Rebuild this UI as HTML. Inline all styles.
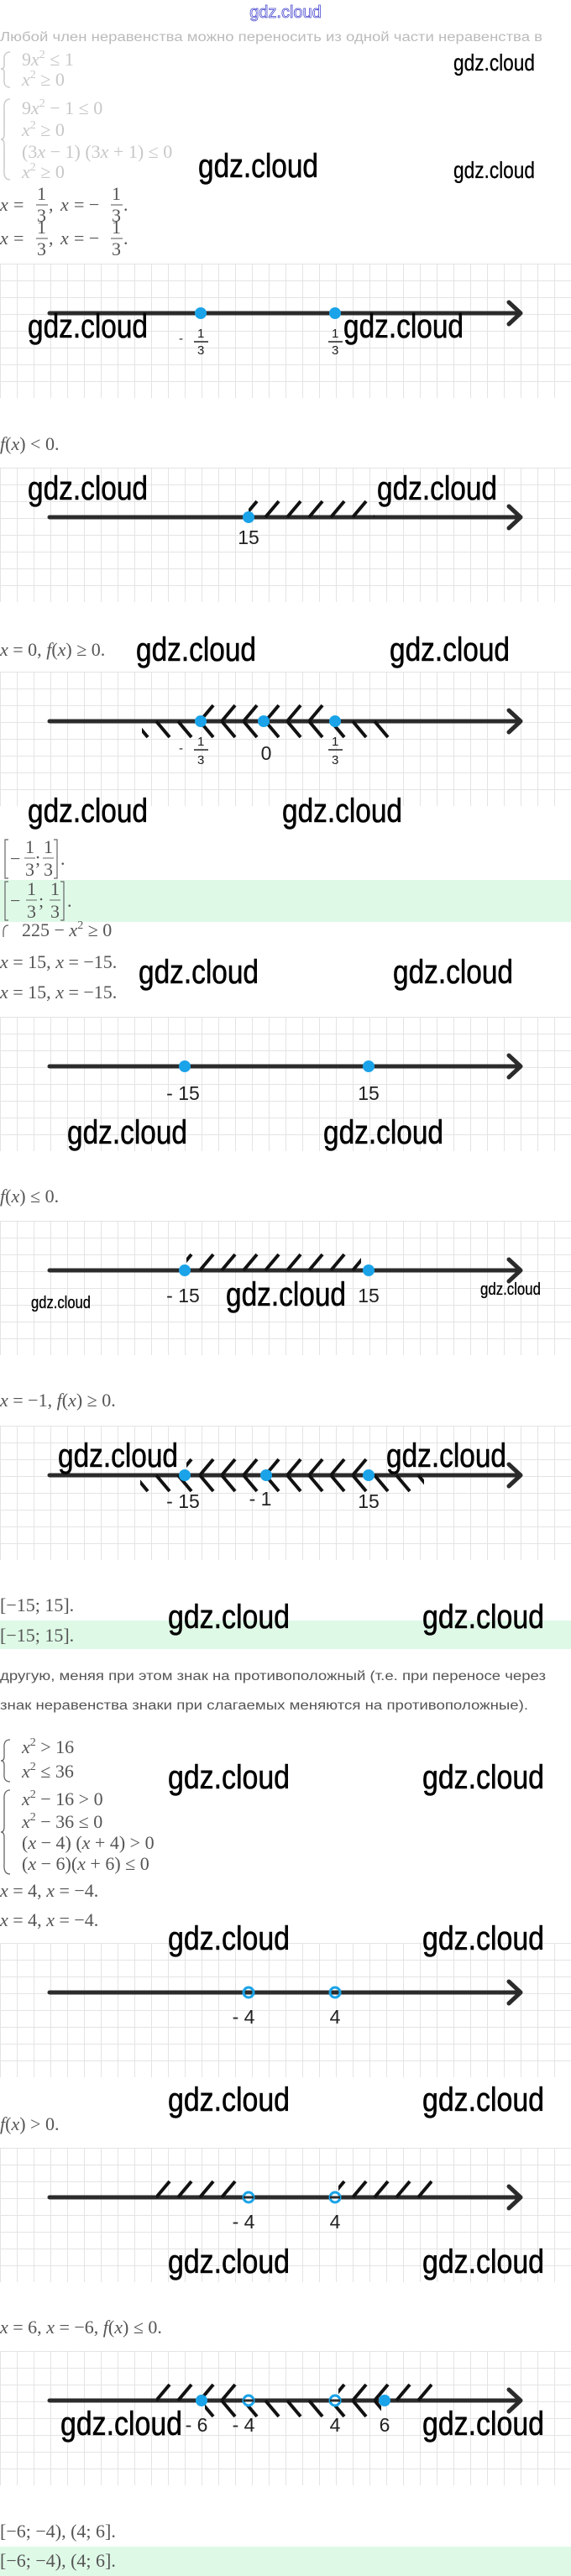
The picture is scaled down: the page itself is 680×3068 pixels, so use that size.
<!DOCTYPE html>
<html><head><meta charset="utf-8"><style>
html,body{margin:0;padding:0;background:#fff;}
svg{display:block;}
.m{font-family:"Liberation Serif",serif;font-size:22px;fill:#555;}
.f{font-family:"Liberation Serif",serif;font-size:22px;fill:#c8c8c8;}
.i{font-style:italic;}
.w{font-family:"Liberation Sans Narrow","Liberation Sans",sans-serif;font-size:40px;fill:#000;stroke:#000;stroke-width:0.6;}
.ws{font-family:"Liberation Sans Narrow","Liberation Sans",sans-serif;fill:#000;stroke:#000;stroke-width:0.3;}
.l{font-family:"Liberation Sans",sans-serif;font-size:23px;fill:#222;}
.ls{font-family:"Liberation Sans",sans-serif;font-size:15px;fill:#222;}
.t{font-family:"Liberation Sans",sans-serif;font-size:15.5px;fill:#555;}
</style></head><body>
<svg width="680" height="3068" viewBox="0 0 680 3068" xmlns="http://www.w3.org/2000/svg">
<defs>
<pattern id="grid" width="20" height="20" patternUnits="userSpaceOnUse"><path d="M0 0.5H20M0.5 0V20" stroke="#e4e4e4" stroke-width="1" fill="none"/></pattern>
<pattern id="hu" width="26" height="200" patternUnits="userSpaceOnUse"><line x1="4" y1="59" x2="20" y2="40" stroke="#111" stroke-width="4"/></pattern>
<pattern id="hd" width="26" height="200" patternUnits="userSpaceOnUse"><line x1="4" y1="59" x2="20" y2="78" stroke="#111" stroke-width="4"/></pattern>
<g id="ax"><rect x="0" y="0" width="680" height="160" fill="url(#grid)"/><line x1="59" y1="59" x2="618" y2="59" stroke="#2b2b2b" stroke-width="5" stroke-linecap="round"/><polyline points="606,46 620,59 606,72" fill="none" stroke="#2b2b2b" stroke-width="5" stroke-linecap="round" stroke-linejoin="round"/></g>
</defs>

<text x="340" y="21" text-anchor="middle" font-family="Liberation Sans Narrow, Liberation Sans, sans-serif" font-size="20" fill="#fff" stroke="#4a4ad0" stroke-width="0.8">gdz.cloud</text>
<text x="0" y="49" font-family="Liberation Sans, sans-serif" font-size="15.5" fill="#bbb" textLength="646" lengthAdjust="spacingAndGlyphs">Любой член неравенства можно переносить из одной части неравенства в</text>

<path d="M12 62 Q4 62 5 72 L5 78 Q5 82 1 82 Q5 82 5 86 L5 94 Q4 104 12 104" fill="none" stroke="#ccc" stroke-width="1.5"/>
<text class="f" x="26" y="78">9<tspan class="i">x</tspan><tspan font-size="14" dy="-9">2</tspan><tspan dy="9"> ≤ 1</tspan></text>
<text class="f" x="26" y="102"><tspan class="i">x</tspan><tspan font-size="14" dy="-9">2</tspan><tspan dy="9"> ≥ 0</tspan></text>
<path d="M12 118 Q4 118 5 130 L5 160 Q5 166 1 166 Q5 166 5 172 L5 202 Q4 214 12 214" fill="none" stroke="#ccc" stroke-width="1.5"/>
<text class="f" x="26" y="136">9<tspan class="i">x</tspan><tspan font-size="14" dy="-9">2</tspan><tspan dy="9"> − 1 ≤ 0</tspan></text>
<text class="f" x="26" y="162"><tspan class="i">x</tspan><tspan font-size="14" dy="-9">2</tspan><tspan dy="9"> ≥ 0</tspan></text>
<text class="f" x="26" y="188">(3<tspan class="i">x</tspan> − 1) (3<tspan class="i">x</tspan> + 1) ≤ 0</text>
<text class="f" x="26" y="212"><tspan class="i">x</tspan><tspan font-size="14" dy="-9">2</tspan><tspan dy="9"> ≥ 0</tspan></text>

<g fill="#333">
<text class="m i" x="0" y="251">x</text><text class="m" x="16" y="251">=</text>
<text class="m" x="44" y="238">1</text><line x1="43" y1="244" x2="57" y2="244" stroke="#555"/><text class="m" x="44" y="264">3</text>
<text class="m" x="58" y="251">,</text><text class="m i" x="72" y="251">x</text><text class="m" x="88" y="251">= −</text>
<text class="m" x="133" y="238">1</text><line x1="132" y1="244" x2="146" y2="244" stroke="#555"/><text class="m" x="133" y="264">3</text><text class="m" x="147" y="251">.</text>
<text class="m i" x="0" y="291">x</text><text class="m" x="16" y="291">=</text>
<text class="m" x="44" y="278">1</text><line x1="43" y1="284" x2="57" y2="284" stroke="#555"/><text class="m" x="44" y="304">3</text>
<text class="m" x="58" y="291">,</text><text class="m i" x="72" y="291">x</text><text class="m" x="88" y="291">= −</text>
<text class="m" x="133" y="278">1</text><line x1="132" y1="284" x2="146" y2="284" stroke="#555"/><text class="m" x="133" y="304">3</text><text class="m" x="147" y="291">.</text>
</g>

<g transform="translate(0,314)"><use href="#ax"/>
<circle cx="239" cy="59" r="7" fill="#1aa3e8"/><circle cx="399" cy="59" r="7" fill="#1aa3e8"/>
<text class="ls" x="213" y="94">-</text><text class="ls" x="235" y="88">1</text><line x1="231" y1="93" x2="248" y2="93" stroke="#222" stroke-width="1.5"/><text class="ls" x="235" y="108">3</text>
<text class="ls" x="395" y="88">1</text><line x1="391" y1="93" x2="408" y2="93" stroke="#222" stroke-width="1.5"/><text class="ls" x="395" y="108">3</text>
</g>

<text class="m" x="0" y="536"><tspan class="i">f</tspan>(<tspan class="i">x</tspan>)  &lt;  0.</text>
<g transform="translate(0,557)"><use href="#ax"/>
<rect x="296" y="38" width="150" height="22" fill="url(#hu)"/>
<circle cx="296" cy="59" r="7" fill="#1aa3e8"/>
<text class="l" x="296" y="91" text-anchor="middle">15</text>
</g>

<text class="m" x="0" y="781"><tspan class="i">x</tspan> = 0, <tspan class="i">f</tspan>(<tspan class="i">x</tspan>)  ≥  0.</text>
<g transform="translate(0,800)"><use href="#ax"/>
<rect x="241" y="38" width="146" height="22" fill="url(#hu)"/>
<rect x="169" y="58" width="302" height="22" fill="url(#hd)"/>
<circle cx="239" cy="59" r="7" fill="#1aa3e8"/><circle cx="314" cy="59" r="7" fill="#1aa3e8"/><circle cx="399" cy="59" r="7" fill="#1aa3e8"/>
<text class="ls" x="213" y="96">-</text><text class="ls" x="235" y="88">1</text><line x1="231" y1="93" x2="248" y2="93" stroke="#222" stroke-width="1.5"/><text class="ls" x="235" y="110">3</text>
<text class="l" x="317" y="105" text-anchor="middle">0</text>
<text class="ls" x="395" y="88">1</text><line x1="391" y1="93" x2="408" y2="93" stroke="#222" stroke-width="1.5"/><text class="ls" x="395" y="110">3</text>
</g>

<rect x="0" y="1048" width="680" height="50" fill="#dff9e7"/>
<g>
<path d="M10 1000 H6 V1046 H10 M64 1000 H68 V1046 H64" fill="none" stroke="#666" stroke-width="1.2"/>
<text class="m" x="12" y="1030">−</text><text class="m" x="30" y="1016">1</text><line x1="29" y1="1022" x2="42" y2="1022" stroke="#666"/><text class="m" x="30" y="1043">3</text><text class="m" x="42" y="1030">;</text>
<text class="m" x="52" y="1016">1</text><line x1="51" y1="1022" x2="64" y2="1022" stroke="#666"/><text class="m" x="52" y="1043">3</text><text class="m" x="72" y="1030">.</text>
<path d="M10 1050 H6 V1096 H10 M72 1050 H76 V1096 H72" fill="none" stroke="#666" stroke-width="1.2"/>
<text class="m" x="12" y="1080">−</text><text class="m" x="32" y="1066">1</text><line x1="31" y1="1072" x2="44" y2="1072" stroke="#666"/><text class="m" x="32" y="1093">3</text><text class="m" x="46" y="1080">;</text>
<text class="m" x="60" y="1066">1</text><line x1="59" y1="1072" x2="72" y2="1072" stroke="#666"/><text class="m" x="60" y="1093">3</text><text class="m" x="80" y="1080">.</text>
</g>
<path d="M10 1102 Q4 1102 4 1110 L4 1116" fill="none" stroke="#666" stroke-width="1.3"/>
<text class="m" x="26" y="1115">225 − <tspan class="i">x</tspan><tspan font-size="14" dy="-9">2</tspan><tspan dy="9">  ≥  0</tspan></text>
<text class="m" x="0" y="1153"><tspan class="i">x</tspan> = 15,  <tspan class="i">x</tspan> = −15.</text>
<text class="m" x="0" y="1189"><tspan class="i">x</tspan> = 15,  <tspan class="i">x</tspan> = −15.</text>

<g transform="translate(0,1211)"><use href="#ax"/>
<circle cx="220" cy="59" r="7" fill="#1aa3e8"/><circle cx="439" cy="59" r="7" fill="#1aa3e8"/>
<text class="l" x="218" y="99" text-anchor="middle">- 15</text><text class="l" x="439" y="99" text-anchor="middle">15</text>
</g>

<text class="m" x="0" y="1432"><tspan class="i">f</tspan>(<tspan class="i">x</tspan>)  ≤  0.</text>
<g transform="translate(0,1454)"><use href="#ax"/>
<rect x="222" y="38" width="208" height="22" fill="url(#hu)"/>
<circle cx="220" cy="59" r="7" fill="#1aa3e8"/><circle cx="439" cy="59" r="7" fill="#1aa3e8"/>
<text class="l" x="218" y="97" text-anchor="middle">- 15</text><text class="l" x="439" y="97" text-anchor="middle">15</text>
</g>

<text class="m" x="0" y="1675"><tspan class="i">x</tspan> = −1, <tspan class="i">f</tspan>(<tspan class="i">x</tspan>)  ≥  0.</text>
<g transform="translate(0,1698)"><use href="#ax"/>
<rect x="222" y="38" width="216" height="22" fill="url(#hu)"/>
<rect x="167" y="58" width="338" height="22" fill="url(#hd)"/>
<circle cx="220" cy="59" r="7" fill="#1aa3e8"/><circle cx="317" cy="59" r="7" fill="#1aa3e8"/><circle cx="439" cy="59" r="7" fill="#1aa3e8"/>
<text class="l" x="218" y="98" text-anchor="middle">- 15</text><text class="l" x="310" y="95" text-anchor="middle">- 1</text><text class="l" x="439" y="98" text-anchor="middle">15</text>
</g>

<text class="m" x="0" y="1919">[−15;  15].</text>
<rect x="0" y="1930" width="680" height="34" fill="#dff9e7"/>
<text class="m" x="0" y="1955">[−15;  15].</text>
<text class="t" x="0" y="2001" textLength="650" lengthAdjust="spacingAndGlyphs">другую, меняя при этом знак на противоположный (т.е. при переносе через</text>
<text class="t" x="0" y="2036" textLength="629" lengthAdjust="spacingAndGlyphs">знак неравенства знаки при слагаемых меняются на противоположные).</text>

<path d="M12 2072 Q4 2072 5 2082 L5 2092 Q5 2097 1 2097 Q5 2097 5 2102 L5 2112 Q4 2122 12 2122" fill="none" stroke="#666" stroke-width="1.3"/>
<text class="m" x="26" y="2088"><tspan class="i">x</tspan><tspan font-size="14" dy="-9">2</tspan><tspan dy="9">  &gt;  16</tspan></text>
<text class="m" x="26" y="2117"><tspan class="i">x</tspan><tspan font-size="14" dy="-9">2</tspan><tspan dy="9">  ≤  36</tspan></text>
<path d="M12 2132 Q4 2132 5 2144 L5 2176 Q5 2182 1 2182 Q5 2182 5 2188 L5 2220 Q4 2232 12 2232" fill="none" stroke="#666" stroke-width="1.3"/>
<text class="m" x="26" y="2150"><tspan class="i">x</tspan><tspan font-size="14" dy="-9">2</tspan><tspan dy="9"> − 16  &gt;  0</tspan></text>
<text class="m" x="26" y="2177"><tspan class="i">x</tspan><tspan font-size="14" dy="-9">2</tspan><tspan dy="9"> − 36  ≤  0</tspan></text>
<text class="m" x="26" y="2202">(<tspan class="i">x</tspan> − 4) (<tspan class="i">x</tspan> + 4)  &gt;  0</text>
<text class="m" x="26" y="2227">(<tspan class="i">x</tspan> − 6)(<tspan class="i">x</tspan> + 6)  ≤  0</text>
<text class="m" x="0" y="2259"><tspan class="i">x</tspan> = 4,  <tspan class="i">x</tspan> = −4.</text>
<text class="m" x="0" y="2294"><tspan class="i">x</tspan> = 4,  <tspan class="i">x</tspan> = −4.</text>

<g transform="translate(0,2314)"><use href="#ax"/>
<circle cx="296" cy="59" r="6" fill="none" stroke="#1aa3e8" stroke-width="3"/><circle cx="399" cy="59" r="6" fill="none" stroke="#1aa3e8" stroke-width="3"/>
<text class="l" x="290" y="96" text-anchor="middle">- 4</text><text class="l" x="399" y="96" text-anchor="middle">4</text>
</g>

<text class="m" x="0" y="2537"><tspan class="i">f</tspan>(<tspan class="i">x</tspan>)  &gt;  0.</text>
<g transform="translate(0,2558)"><use href="#ax"/>
<rect x="186" y="38" width="104" height="22" fill="url(#hu)"/>
<rect x="403" y="38" width="112" height="22" fill="url(#hu)"/>
<circle cx="296" cy="59" r="6" fill="#fff" stroke="#1aa3e8" stroke-width="3"/><circle cx="399" cy="59" r="6" fill="#fff" stroke="#1aa3e8" stroke-width="3"/>
<line x1="290" y1="59" x2="302" y2="59" stroke="#2b2b2b" stroke-width="3"/><line x1="393" y1="59" x2="405" y2="59" stroke="#2b2b2b" stroke-width="3"/>
<text class="l" x="290" y="96" text-anchor="middle">- 4</text><text class="l" x="399" y="96" text-anchor="middle">4</text>
</g>

<text class="m" x="0" y="2779"><tspan class="i">x</tspan> = 6,  <tspan class="i">x</tspan> = −6, <tspan class="i">f</tspan>(<tspan class="i">x</tspan>)  ≤  0.</text>
<g transform="translate(0,2800)"><use href="#ax"/>
<rect x="186" y="38" width="104" height="22" fill="url(#hu)"/>
<rect x="403" y="38" width="112" height="22" fill="url(#hu)"/>
<rect x="244" y="58" width="210" height="22" fill="url(#hd)"/>
<circle cx="240" cy="59" r="7" fill="#1aa3e8"/><circle cx="458" cy="59" r="7" fill="#1aa3e8"/>
<circle cx="296" cy="59" r="6" fill="#fff" stroke="#1aa3e8" stroke-width="3"/><circle cx="399" cy="59" r="6" fill="#fff" stroke="#1aa3e8" stroke-width="3"/>
<line x1="290" y1="59" x2="302" y2="59" stroke="#2b2b2b" stroke-width="3"/><line x1="393" y1="59" x2="405" y2="59" stroke="#2b2b2b" stroke-width="3"/>
<text class="l" x="234" y="96" text-anchor="middle">- 6</text><text class="l" x="290" y="96" text-anchor="middle">- 4</text><text class="l" x="399" y="96" text-anchor="middle">4</text><text class="l" x="458" y="96" text-anchor="middle">6</text>
</g>

<text class="m" x="0" y="3022">[−6;  −4),  (4;  6].</text>
<rect x="0" y="3033" width="680" height="35" fill="#dff9e7"/>
<text class="m" x="0" y="3057">[−6;  −4),  (4;  6].</text>

<text class="ws" x="540" y="84" font-size="28" textLength="97" lengthAdjust="spacingAndGlyphs">gdz.cloud</text>
<text class="ws" x="540" y="212" font-size="28" textLength="97" lengthAdjust="spacingAndGlyphs">gdz.cloud</text>
<text class="ws" x="37" y="1558" font-size="20" textLength="71" lengthAdjust="spacingAndGlyphs">gdz.cloud</text>
<text class="ws" x="572" y="1542" font-size="20" textLength="72" lengthAdjust="spacingAndGlyphs">gdz.cloud</text>
<g class="w">
<text x="236" y="211" textLength="143" lengthAdjust="spacingAndGlyphs">gdz.cloud</text>
<text x="33" y="402" textLength="143" lengthAdjust="spacingAndGlyphs">gdz.cloud</text>
<text x="409" y="402" textLength="143" lengthAdjust="spacingAndGlyphs">gdz.cloud</text>
<text x="33" y="595" textLength="143" lengthAdjust="spacingAndGlyphs">gdz.cloud</text>
<text x="449" y="595" textLength="143" lengthAdjust="spacingAndGlyphs">gdz.cloud</text>
<text x="162" y="787" textLength="143" lengthAdjust="spacingAndGlyphs">gdz.cloud</text>
<text x="464" y="787" textLength="143" lengthAdjust="spacingAndGlyphs">gdz.cloud</text>
<text x="33" y="979" textLength="143" lengthAdjust="spacingAndGlyphs">gdz.cloud</text>
<text x="336" y="979" textLength="143" lengthAdjust="spacingAndGlyphs">gdz.cloud</text>
<text x="165" y="1171" textLength="143" lengthAdjust="spacingAndGlyphs">gdz.cloud</text>
<text x="468" y="1171" textLength="143" lengthAdjust="spacingAndGlyphs">gdz.cloud</text>
<text x="80" y="1362" textLength="143" lengthAdjust="spacingAndGlyphs">gdz.cloud</text>
<text x="385" y="1362" textLength="143" lengthAdjust="spacingAndGlyphs">gdz.cloud</text>
<text x="269" y="1555" textLength="143" lengthAdjust="spacingAndGlyphs">gdz.cloud</text>
<text x="69" y="1747" textLength="143" lengthAdjust="spacingAndGlyphs">gdz.cloud</text>
<text x="460" y="1747" textLength="143" lengthAdjust="spacingAndGlyphs">gdz.cloud</text>
<text x="200" y="1939" textLength="145" lengthAdjust="spacingAndGlyphs">gdz.cloud</text>
<text x="503" y="1939" textLength="145" lengthAdjust="spacingAndGlyphs">gdz.cloud</text>
<text x="200" y="2130" textLength="145" lengthAdjust="spacingAndGlyphs">gdz.cloud</text>
<text x="503" y="2130" textLength="145" lengthAdjust="spacingAndGlyphs">gdz.cloud</text>
<text x="200" y="2322" textLength="145" lengthAdjust="spacingAndGlyphs">gdz.cloud</text>
<text x="503" y="2322" textLength="145" lengthAdjust="spacingAndGlyphs">gdz.cloud</text>
<text x="200" y="2514" textLength="145" lengthAdjust="spacingAndGlyphs">gdz.cloud</text>
<text x="503" y="2514" textLength="145" lengthAdjust="spacingAndGlyphs">gdz.cloud</text>
<text x="200" y="2707" textLength="145" lengthAdjust="spacingAndGlyphs">gdz.cloud</text>
<text x="503" y="2707" textLength="145" lengthAdjust="spacingAndGlyphs">gdz.cloud</text>
<text x="72" y="2900" textLength="145" lengthAdjust="spacingAndGlyphs">gdz.cloud</text>
<text x="503" y="2900" textLength="145" lengthAdjust="spacingAndGlyphs">gdz.cloud</text>
</g>
</svg>
</body></html>
